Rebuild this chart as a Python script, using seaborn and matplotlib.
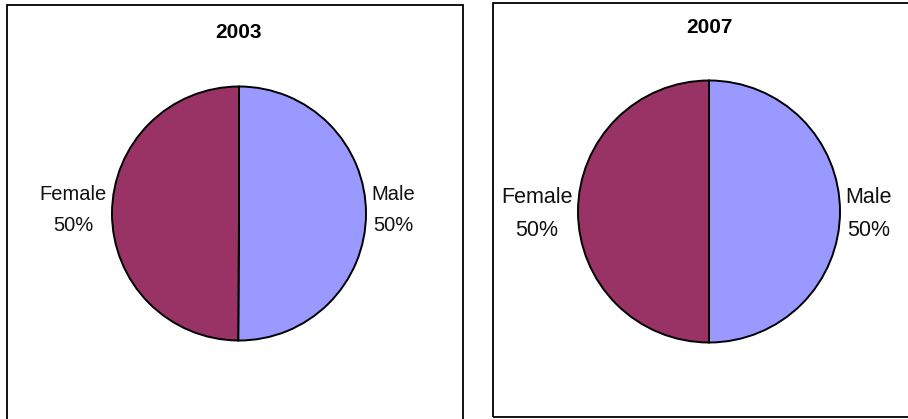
import matplotlib
matplotlib.use("Agg")
import matplotlib.pyplot as plt
from matplotlib.patches import Rectangle
import seaborn as sns

sns.set_theme(style="white")
plt.rcParams['font.family'] = ['Liberation Sans', 'DejaVu Sans']

# Data
categories = ["Male", "Female"]
years = ["2003", "2007"]
values_2003 = [50.1, 49.9]
values_2007 = [50.0, 50.0]
pct_labels = ["50%", "50%"]
colors = ["#9999FF", "#993366"]

W, H = 908, 419
fig = plt.figure(figsize=(W / 100, H / 100), dpi=100)
ax = fig.add_axes([0, 0, 1, 1])


def py(y):
    return H - y


panels = [
    dict(vals=values_2003, year=years[0], cx=239, cy=213.5, r=127, ty=32, fs=14.5, ly=210),
    dict(vals=values_2007, year=years[1], cx=709, cy=211.5, r=131, ty=27, fs=15.5, ly=214),
]

for p in panels:
    labels = [f"{c}\n{l}" for c, l in zip(categories, pct_labels)]
    wedges, texts = ax.pie(
        p["vals"], labels=labels, colors=colors, startangle=90, counterclock=False,
        center=(p["cx"], py(p["cy"])), radius=p["r"], labeldistance=1.04,
        wedgeprops=dict(edgecolor='black', linewidth=1.4),
        textprops=dict(fontsize=p["fs"], color='#111111'),
        frame=True,
    )
    for t in texts:
        x, _ = t.get_position()
        t.set_position((x, py(p["ly"])))
        t.set_horizontalalignment('left' if x > p["cx"] else 'right')
        t.set_verticalalignment('center')
        t.set_multialignment('center')
        t.set_linespacing(1.75)
    ax.text(p["cx"], py(p["ty"]), p["year"], ha='center', va='center',
            fontsize=15, fontweight='bold', color='black')

# panel frames (pixel layout)
ax.add_patch(Rectangle((7, py(440)), 456, 435, fill=False, edgecolor='black', lw=1.3))
ax.add_patch(Rectangle((493, py(417)), 440, 414, fill=False, edgecolor='black', lw=1.3))

ax.set_xlim(0, W)
ax.set_ylim(0, H)
ax.set_aspect('equal')
ax.axis('off')
fig.savefig("out.png", dpi=100)
